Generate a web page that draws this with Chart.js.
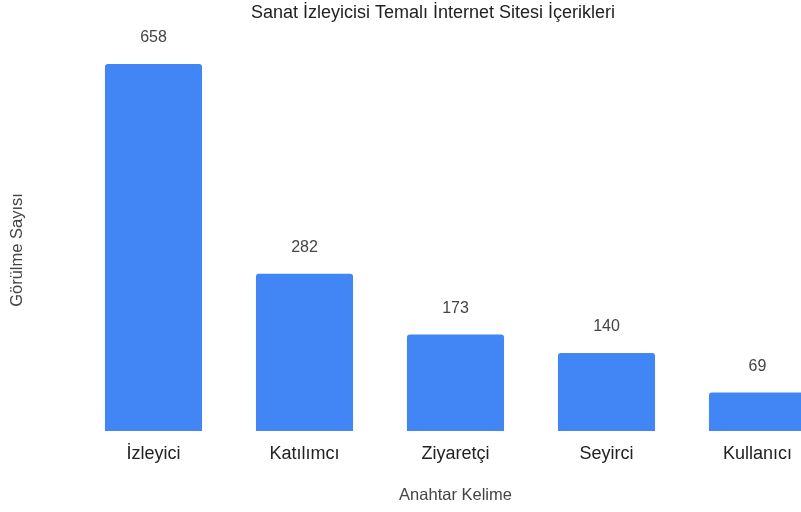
<!DOCTYPE html>
<html>
<head>
<meta charset="utf-8">
<script src="https://cdn.jsdelivr.net/npm/chart.js@4"></script>
<style>
  html, body { margin: 0; padding: 0; background: #fff; overflow: hidden; }
  #wrap { width: 866px; height: 512px; }
</style>
</head>
<body>
<div id="wrap"><canvas id="kelimeChart"></canvas></div>
<script>
const keywords = ["İzleyici", "Katılımcı", "Ziyaretçi", "Seyirci", "Kullanıcı"];
const viewCounts = [658, 282, 173, 140, 69];
const yAxisTitle = "Görülme Sayısı";

const fontFam = "'Liberation Sans', Arial, sans-serif";

// values written above each bar, plus the y axis title (centred on the page)
const valueLabels = {
  id: "valueLabels",
  afterDatasetsDraw(chart) {
    const ctx = chart.ctx;
    const meta = chart.getDatasetMeta(0);
    ctx.save();
    ctx.font = "16px " + fontFam;
    ctx.fillStyle = "#444";
    ctx.textAlign = "center";
    ctx.textBaseline = "middle";
    meta.data.forEach((bar, i) => {
      ctx.fillText(String(viewCounts[i]), bar.x, bar.y - 26);
    });
    ctx.translate(17, 250);
    ctx.rotate(-Math.PI / 2);
    ctx.font = "16.5px " + fontFam;
    ctx.fillText(yAxisTitle, 0, 0);
    ctx.restore();
  },
};

var ctx = document.getElementById("kelimeChart");
var chart = new Chart(ctx, {
  type: "bar",
  data: {
    labels: keywords,
    datasets: [
      {
        data: viewCounts,
        backgroundColor: "#4285F4",
        borderRadius: 3,
        borderSkipped: "bottom",
        categoryPercentage: 1,
        barPercentage: 0.643,
      },
    ],
  },
  options: {
    responsive: true,
    maintainAspectRatio: false,
    animation: false,
    layout: { padding: { top: 0, right: 33, bottom: 0, left: 33 } },
    plugins: {
      legend: { display: false },
      tooltip: { enabled: false },
      title: {
        display: true,
        text: "Sanat İzleyicisi Temalı İnternet Sitesi İçerikleri",
        color: "#222",
        font: { family: fontFam, size: 18, weight: "normal" },
        padding: { top: 2, bottom: 17 },
      },
    },
    scales: {
      x: {
        grid: { display: false },
        border: { display: false },
        ticks: {
          color: "#222",
          padding: 4,
          font: { family: fontFam, size: 18 },
        },
        title: {
          display: true,
          text: "Anahtar Kelime",
          color: "#444",
          font: { family: fontFam, size: 16.5 },
          padding: { top: 10, bottom: 7 },
        },
        afterFit(scale) {
          scale.height = 81;
        },
      },
      y: {
        min: 0,
        max: 700,
        grid: { display: false },
        border: { display: false },
        ticks: { display: false },
        afterFit(scale) {
          scale.width = 45;
        },
      },
    },
  },
  plugins: [valueLabels],
});
</script>
</body>
</html>
